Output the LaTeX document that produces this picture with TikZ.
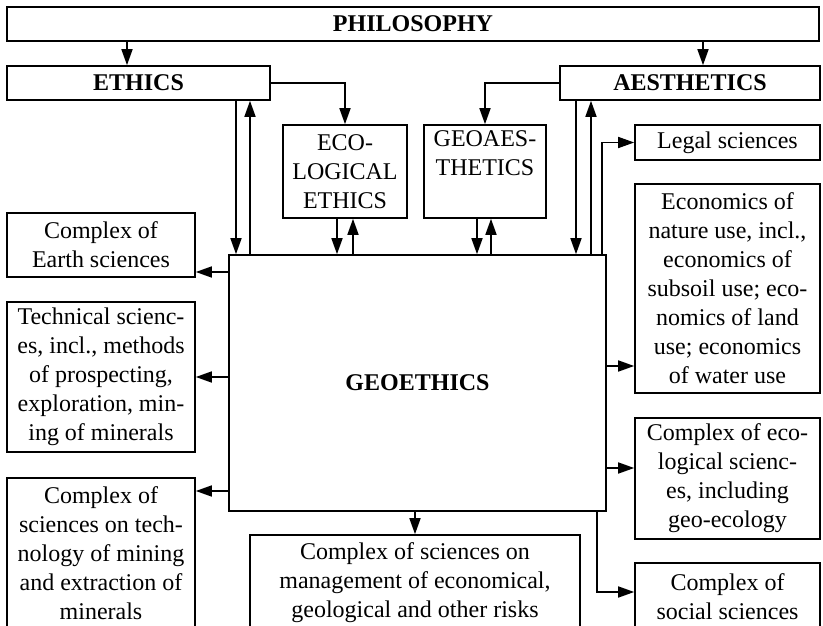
\documentclass[tikz,border=0pt]{standalone}
\usepackage{fontspec}
\setmainfont{Liberation Serif}
\usetikzlibrary{arrows.meta}
\tikzset{
  box/.style={draw, line width=1.6pt, inner sep=0pt, align=center,
    font=\fontsize{24}{29}\selectfont},
  arr/.style={line width=1.6pt, -{Triangle[length=16pt,width=11pt]}},
}

\begin{document}
\begin{tikzpicture}[x=1pt, y=-1pt]
	\useasboundingbox (0,0) rectangle (823,626);
	\clip (0,0) rectangle (823,626);

	% upper level
	\node[box, minimum width=812, minimum height=34] (philo) at (413,24) {\textbf{PHILOSOPHY}};
	\node[box, minimum width=263, minimum height=34] (ethics) at (138.5,83) {\textbf{ETHICS}};
	\node[box, minimum width=260, minimum height=34] (aesth) at (690,83) {\textbf{AESTHETICS}};
	\node[box, minimum width=124, minimum height=93] (ecoeth) at (345,171.5) {ECO-\\LOGICAL\\ETHICS};
	\node[box, minimum width=122, minimum height=93] (geoaes) at (485,171.5) {GEOAES-\\THETICS\\\strut};

	% centre
	\node[box, minimum width=377, minimum height=256] (geo) at (417.5,383) {\textbf{GEOETHICS}};

	% left column
	\node[box, minimum width=188, minimum height=64] (earth) at (101,245) {Complex of\\Earth sciences};
	\node[box, minimum width=188, minimum height=150] (techn) at (101,377) {Technical scienc-\\es, incl., methods\\of prospecting,\\exploration, min-\\ing of minerals};
	\node[box, minimum width=188, minimum height=151] (mining) at (101,553.5) {Complex of\\sciences on tech-\\nology of mining\\and extraction of\\minerals};

	% bottom
	\node[box, minimum width=330, minimum height=96] (risks) at (415,583) {Complex of sciences on\\management of economical,\\geological and other risks};

	% right column
	\node[box, minimum width=185, minimum height=35] (legal) at (727.5,142.5) {Legal sciences};
	\node[box, minimum width=185, minimum height=209] (econ) at (727.5,288.5) {Economics of\\nature use, incl.,\\economics of\\subsoil use; eco-\\nomics of land\\use; economics\\of water use};
	\node[box, minimum width=185, minimum height=121] (ecol) at (727.5,478.5) {Complex of eco-\\logical scienc-\\es, including\\geo-ecology};
	\node[box, minimum width=185, minimum height=68] (social) at (727.5,597) {Complex of\\social sciences};

	% from philosophy
	\draw[arr] (philo.south -| 127,0) -- (ethics.north -| 127,0);
	\draw[arr] (philo.south -| 703,0) -- (aesth.north -| 703,0);
	\draw[arr] (ethics.east) -| (ecoeth.north);
	\draw[arr] (aesth.west) -| (geoaes.north);

	% two-way links with geoethics
	\foreach \src/\xd/\xu in {ethics/236/250, ecoeth/337/353, geoaes/477/491, aesth/576/591} {
		\draw[arr] (\src.south -| \xd,0) -- (geo.north -| \xd,0);
		\draw[arr] (geo.north -| \xu,0) -- (\src.south -| \xu,0);
	}

	% outgoing
	\draw[arr] (geo.north -| 602,0) |- (legal.west);
	\draw[arr] (geo.east |- 0,366) -- (econ.west |- 0,366);
	\draw[arr] (geo.east |- 0,468) -- (ecol.west |- 0,468);
	\draw[arr] (geo.south -| 597,0) |- (social.west |- 0,592);
	\draw[arr] (geo.south -| risks.north) -- (risks.north);
	\draw[arr] (geo.west |- 0,272) -- (earth.east |- 0,272);
	\draw[arr] (geo.west |- techn.east) -- (techn.east);
	\draw[arr] (geo.west |- 0,491) -- (mining.east |- 0,491);
\end{tikzpicture}
\end{document}
